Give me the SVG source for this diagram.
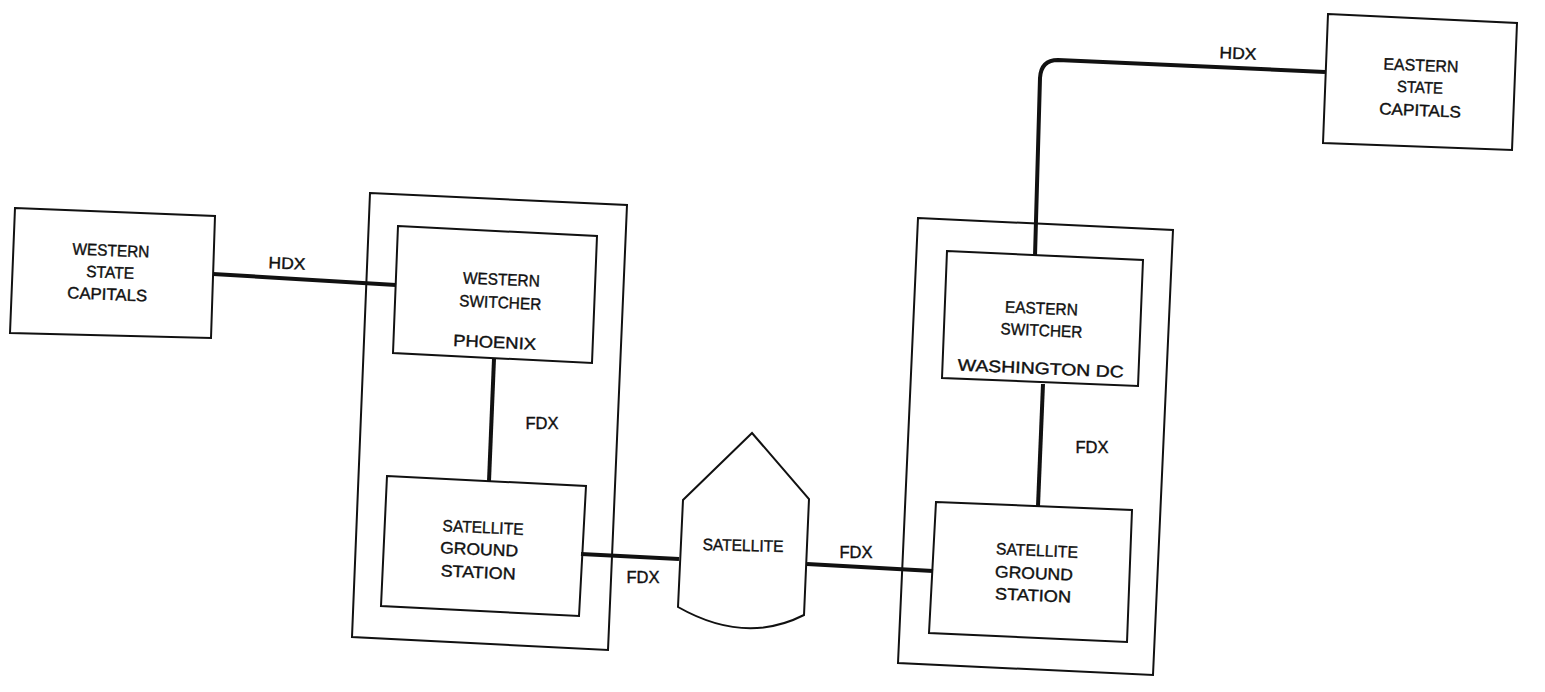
<svg xmlns="http://www.w3.org/2000/svg" width="1545" height="692" viewBox="0 0 1545 692">
<style>
.box{fill:none;stroke:#111;stroke-width:2;stroke-linejoin:miter}
.wire{fill:none;stroke:#111;stroke-width:4;stroke-linecap:butt}
text{font-family:"Liberation Sans",Arial,sans-serif;font-size:16.5px;fill:#111;stroke:#111;stroke-width:0.4;text-anchor:middle}
</style>
<rect width="1545" height="692" fill="#fff"/>
<g id="connectors">
<path class="wire" d="M213,274 L396,285"/>
<path class="wire" d="M494,359 L489,481"/>
<path class="wire" d="M581,554 L679,559"/>
<path class="wire" d="M807,564 L933,571"/>
<path class="wire" d="M1043,384 L1038,506"/>
<path class="wire" d="M1035,256 L1040,78 Q1041,60 1058,60 L1325,72"/>
</g>
<g id="labels">
<text x="287" y="269" textLength="37" lengthAdjust="spacingAndGlyphs" transform="rotate(2.3 287 264)">HDX</text>
<text x="1238" y="59" textLength="37" lengthAdjust="spacingAndGlyphs" transform="rotate(2.3 1238 54)">HDX</text>
<text x="542" y="429" textLength="33" lengthAdjust="spacingAndGlyphs">FDX</text>
<text x="643" y="583" textLength="33" lengthAdjust="spacingAndGlyphs">FDX</text>
<text x="856" y="558" textLength="33" lengthAdjust="spacingAndGlyphs">FDX</text>
<text x="1092" y="453" textLength="33" lengthAdjust="spacingAndGlyphs">FDX</text>
</g>
<g id="western-state-capitals">
<polygon class="box" points="15,208 215,216 211,338 10,333"/>
<g transform="rotate(2.3 110 275)">
<text x="110" y="256" textLength="77" lengthAdjust="spacingAndGlyphs">WESTERN</text>
<text x="110" y="278" textLength="48" lengthAdjust="spacingAndGlyphs">STATE</text>
<text x="108" y="300" textLength="80" lengthAdjust="spacingAndGlyphs">CAPITALS</text>
</g>
</g>
<g id="phoenix-site">
<polygon class="box" points="370,193 627,205 608,650 352,637"/>
</g>
<g id="western-switcher">
<polygon class="box" points="398,226 597,236 592,363 393,353"/>
<g transform="rotate(2.5 498 310)">
<text x="500" y="285" textLength="77" lengthAdjust="spacingAndGlyphs">WESTERN</text>
<text x="500" y="308" textLength="82" lengthAdjust="spacingAndGlyphs">SWITCHER</text>
<text x="496" y="348" textLength="83" lengthAdjust="spacingAndGlyphs">PHOENIX</text>
</g>
</g>
<g id="western-ground-station">
<polygon class="box" points="387,476 586,486 579,616 381,606"/>
<g transform="rotate(2.5 480 552)">
<text x="482" y="533" textLength="81" lengthAdjust="spacingAndGlyphs">SATELLITE</text>
<text x="479" y="555" textLength="78" lengthAdjust="spacingAndGlyphs">GROUND</text>
<text x="479" y="578" textLength="75" lengthAdjust="spacingAndGlyphs">STATION</text>
</g>
</g>
<g id="satellite">
<path class="box" d="M752,433 L809,499 L804,615 Q745,645 678,607 L683,500 Z"/>
<text x="743" y="551" textLength="81" lengthAdjust="spacingAndGlyphs" transform="rotate(1.5 743 546)">SATELLITE</text>
</g>
<g id="washington-site">
<polygon class="box" points="918,218 1173,230 1153,675 898,663"/>
</g>
<g id="eastern-switcher">
<polygon class="box" points="947,251 1143,260 1138,386 942,378"/>
<g transform="rotate(2.5 1041 340)">
<text x="1040" y="314" textLength="73" lengthAdjust="spacingAndGlyphs">EASTERN</text>
<text x="1041" y="336" textLength="82" lengthAdjust="spacingAndGlyphs">SWITCHER</text>
<text x="1042" y="374" textLength="166" lengthAdjust="spacingAndGlyphs">WASHINGTON DC</text>
</g>
</g>
<g id="eastern-ground-station">
<polygon class="box" points="936,502 1132,510 1127,642 929,633"/>
<g transform="rotate(2.5 1035 573)">
<text x="1036" y="556" textLength="82" lengthAdjust="spacingAndGlyphs">SATELLITE</text>
<text x="1034" y="579" textLength="78" lengthAdjust="spacingAndGlyphs">GROUND</text>
<text x="1034" y="601" textLength="76" lengthAdjust="spacingAndGlyphs">STATION</text>
</g>
</g>
<g id="eastern-state-capitals">
<polygon class="box" points="1328,14 1517,23 1512,150 1323,143"/>
<g transform="rotate(2.3 1420 88)">
<text x="1420" y="71" textLength="75" lengthAdjust="spacingAndGlyphs">EASTERN</text>
<text x="1420" y="93" textLength="46" lengthAdjust="spacingAndGlyphs">STATE</text>
<text x="1421" y="116" textLength="82" lengthAdjust="spacingAndGlyphs">CAPITALS</text>
</g>
</g>
</svg>
